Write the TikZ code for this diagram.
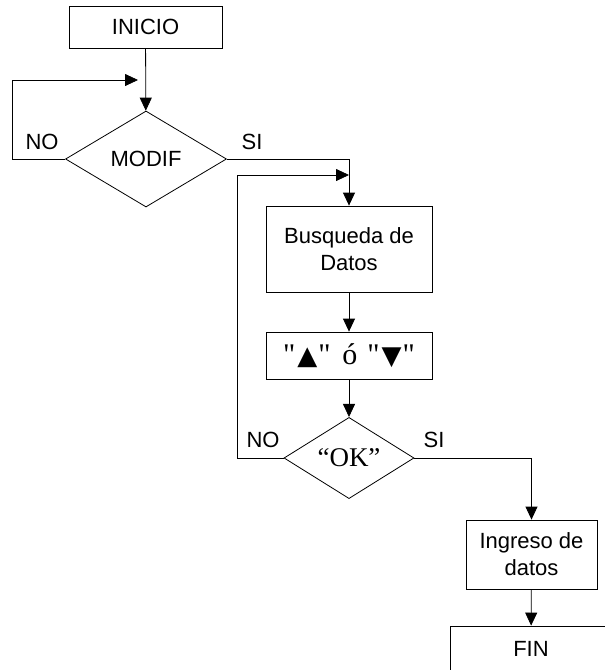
\documentclass[tikz,border=0pt]{standalone}
\usepackage{fontspec}
\usepackage{tikz}
\usetikzlibrary{shapes.geometric,arrows.meta}
\newfontfamily\arial{Liberation Sans}
\newfontfamily\romana{Liberation Serif}
\newfontfamily\simbolos{DejaVu Sans}
\newcommand{\txt}{\arial\fontsize{22}{27}\selectfont}
\newcommand{\arriba}{{\simbolos\fontsize{26}{28}\selectfont ▲}}
\newcommand{\abajo}{{\simbolos\fontsize{26}{28}\selectfont ▼}}

\begin{document}
\begin{tikzpicture}[x=1pt, y=-1pt, line width=0.8pt,
  caja/.style 2 args={rectangle, draw, minimum width=#1, minimum height=#2,
                      inner sep=0pt, align=center, font=\txt},
  rombo/.style 2 args={diamond, draw, minimum width=#1, minimum height=#2,
                       inner sep=0pt, align=center},
  flecha/.style={-{Triangle[length=13pt,width=12pt]}},
  etiq/.style={font=\txt}]

\clip (0,0) rectangle (605,670);

% columna izquierda
\node[caja={153pt}{42pt}] (inicio) at (145.5,27) {INICIO};
\node[rombo={161pt}{96pt}, font=\txt] (modif) at (146,159) {MODIF};
\coordinate (ret1) at (138,80);
\node[etiq] (no1) at (42,142) {NO};
\node[etiq] (si1) at (252,142) {SI};

% columna central
\node[caja={166pt}{86pt}] (busq) at (349,249) {Busqueda de\\ Datos};
\node[caja={166pt}{47pt}, font=\romana\fontsize{30}{32}\selectfont] (flechas) at (349,355.5)
  {"\hspace{2pt}\arriba\hspace{1pt}"\hspace{12pt}ó\hspace{10pt}"\hspace{2pt}\abajo\hspace{1pt}"};
\node[rombo={130pt}{78pt}, font=\romana\fontsize{27}{30}\selectfont] (ok) at (349,458) {“OK”};
\coordinate (ret2) at (349,175);
\node[etiq] (no2) at (263,440) {NO};
\node[etiq] (si2) at (434,440) {SI};

% columna derecha
\node[caja={131pt}{69pt}] (ingreso) at (531.5,554.5) {Ingreso de\\ datos};
\node[caja={162pt}{46pt}] (fin) at (531,649) {FIN};

% conexiones
\draw[flecha] (inicio) -- (modif);
\draw[flecha] (modif.west) -- ++(-53,0) |- (ret1);
\draw[flecha] (modif.east) -| (busq.north);
\draw[flecha] (busq) -- (flechas);
\draw[flecha] (flechas) -- (ok);
\draw[flecha] (ok.west) -- ++(-46,0) |- (ret2);
\draw[flecha] (ok.east) -| (ingreso.north);
\draw[flecha] (ingreso) -- (fin);

\end{tikzpicture}
\end{document}
